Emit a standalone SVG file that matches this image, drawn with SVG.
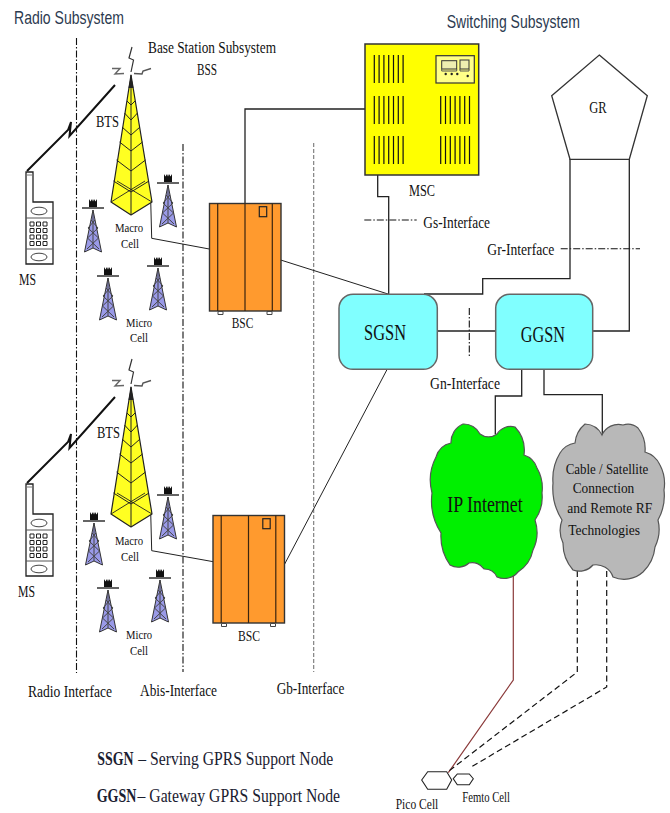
<svg xmlns="http://www.w3.org/2000/svg" width="670" height="813" viewBox="0 0 670 813">
<style>
text{font-family:"Liberation Serif","Times New Roman",serif;fill:#111;font-size:16.500px}
.h{font-family:"Liberation Sans",Arial,sans-serif;font-size:19px;fill:#2c3a50}
.big{font-size:23px}
.small{font-size:14.500px}
.tight{font-size:13.500px}
.cl{font-size:15.500px}
.legend{font-size:18px;fill:#1a2030}
.b{font-weight:bold}
.c{fill:none;stroke:#222;stroke-width:1.3}
.thin{fill:none;stroke:#222;stroke-width:1}
.dd{fill:none;stroke:#111;stroke-width:1.1;stroke-dasharray:7 2 1.5 2}
.gd{fill:none;stroke:#777;stroke-width:1.1;stroke-dasharray:4 2}
.cd{fill:none;stroke:#111;stroke-width:1.2;stroke-dasharray:6 3.500}
.vent{fill:none;stroke:#111;stroke-width:1.2}
</style>
<defs>
<g id="vents"><path class="vent" d="M0 0v28M4.800 0v28M9.600 0v28M14.400 0v28M19.200 0v28M24 0v28M28.800 0v28"/></g>
<g id="tower">
<path d="M131 75L111 202L131 215L152 202Z" fill="#ffff22" stroke="#222" stroke-width="1.200" stroke-linejoin="round"/>
<path d="M131 75V215" stroke="#222" stroke-width="1" fill="none"/>
<path d="M127 101L131 105L135 101M124.500 113L131 120L137.500 113M122 127L131 135L140 127M119.500 142L131 151L142.500 142M116.500 160L131 171L145.500 160M113.500 181L131 192L149 181" fill="none" stroke="#222" stroke-width="1"/>
<path d="M111 202L145 181M152 202L117 181" fill="none" stroke="#222" stroke-width="0.900"/>
<path d="M131 75L128.500 88H133.500Z" fill="#222"/>
<path d="M132 47L129 58L133.500 60L131 72" fill="none" stroke="#333" stroke-width="1.200"/>
<path d="M112 68.500H120L115 74L124 73.500" fill="none" stroke="#666" stroke-width="1.400"/>
<path d="M151 68.500L143 71L142 74L134 73.500" fill="none" stroke="#555" stroke-width="1.400"/>
</g>
<g id="mini">
<path d="M0 2L-8.500 44L0 40L8.500 44Z" fill="#9a9ae8" stroke="#333" stroke-width="1"/>
<path d="M-2 12L5 20L-5.500 30L6 41M2 12L-5 20L5.500 30L-6 41M0 2V40" fill="none" stroke="#444" stroke-width="1"/>
<path d="M-11 0H11" stroke="#111" stroke-width="1.300"/>
<path d="M-4 -1V-9L-2.500 -6.500L-1 -9L0 -6.500L1 -9L2.500 -6.500L4 -9V-1Z" fill="#111"/>
</g>
<g id="phone">
<path d="M26 172H33V202H53V264H26Z" fill="#fff" stroke="#222" stroke-width="1.300"/>
<path d="M26.500 175H32.500" stroke="#777" stroke-width="1"/>
<path d="M26 218H53M26 249H53" stroke="#555" stroke-width="1"/>
<ellipse cx="39" cy="211" rx="8" ry="3.800" fill="#fff" stroke="#444" stroke-width="1"/>
<ellipse cx="39" cy="257" rx="8" ry="3.800" fill="#fff" stroke="#444" stroke-width="1"/>
<path d="M30 222h4v4h-4zM36.500 222h4v4h-4zM43 222h4v4h-4zM30 228.500h4v4h-4zM36.500 228.500h4v4h-4zM43 228.500h4v4h-4zM30 235h4v4h-4zM36.500 235h4v4h-4zM43 235h4v4h-4zM30 241.500h4v4h-4zM36.500 241.500h4v4h-4zM43 241.500h4v4h-4z" fill="#fff" stroke="#222" stroke-width="1"/>
</g>
<g id="bolt"><path d="M27 171L68 130L71 122L69.500 136L115 85" fill="none" stroke="#111" stroke-width="2" stroke-linejoin="miter"/></g>
<g id="bsc">
<rect x="209.500" y="203.500" width="71.500" height="107.500" fill="#ff9a2e" stroke="#333" stroke-width="1.400"/>
<path d="M217.700 203.500V311M245 203.500V311M272.300 203.500V311" stroke="#3a2510" stroke-width="1.200" fill="none"/>
<rect x="259.300" y="206.700" width="7.400" height="10" fill="#ff9a2e" stroke="#222" stroke-width="1.200"/>
<path d="M218 311.500h5v3h-5zM267 311.500h5v3h-5z" fill="#fff" stroke="#444" stroke-width="1"/>
</g>
</defs>

<g id="connectors">
<path class="dd" d="M76.500 38V673"/>
<path class="dd" d="M183 144V672"/>
<path class="gd" d="M313.700 143V672"/>
<path class="dd" d="M364.300 220H416.700"/>
<path class="dd" d="M560.700 248.700H640"/>
<path class="dd" d="M469.300 308V356"/>
<path class="c" d="M245 203V109H365"/>
<path class="c" d="M377.700 175V196.700H388.700V294"/>
<path class="c" d="M570 159V278.700H482.700V294H424"/>
<path class="c" d="M629.300 159V331H592.700"/>
<path class="c" d="M437 331H496"/>
<path class="c" d="M521.700 369V396H495.300V434"/>
<path class="c" d="M544 369V394.700H602.300V435"/>
<path class="thin" d="M387.300 369L284.700 564"/>
<path class="thin" d="M280.700 260L388 294"/>
<path class="thin" d="M150.700 200L151.700 238.300L209.300 249"/>
<path class="thin" d="M150.700 512L151.700 550.700L213.300 561.700"/>
<path d="M513.300 571V680L448.300 772.700" fill="none" stroke="#8b3a3a" stroke-width="1.200"/>
<path class="cd" d="M577.300 571V672L448 771.700"/>
<path class="cd" d="M606.700 571V687L471.700 766.700"/>
</g>

<g id="titles">
<text class="h" x="14" y="24" textLength="110" lengthAdjust="spacingAndGlyphs">Radio Subsystem</text>
<text class="h" x="446.700" y="28" textLength="133.300" lengthAdjust="spacingAndGlyphs">Switching Subsystem</text>
<text x="148" y="53" textLength="128" lengthAdjust="spacingAndGlyphs">Base Station Subsystem</text>
<text x="197" y="75" textLength="20" lengthAdjust="spacingAndGlyphs">BSS</text>
</g>

<g id="ms-1"><use href="#bolt"/><use href="#phone"/><text x="19" y="285" textLength="17" lengthAdjust="spacingAndGlyphs">MS</text></g>
<g id="ms-2"><use href="#bolt" transform="translate(0 312)"/><use href="#phone" transform="translate(0 312)"/><text x="18" y="596.700" textLength="17" lengthAdjust="spacingAndGlyphs">MS</text></g>

<g id="bts-1"><use href="#tower"/><text x="96" y="126.700" textLength="23" lengthAdjust="spacingAndGlyphs">BTS</text>
<text class="tight" x="115" y="232" textLength="28" lengthAdjust="spacingAndGlyphs">Macro</text><text class="tight" x="121" y="248" textLength="18" lengthAdjust="spacingAndGlyphs">Cell</text></g>
<g id="bts-2"><use href="#tower" transform="translate(0 312)"/><text x="97" y="437.700" textLength="23" lengthAdjust="spacingAndGlyphs">BTS</text>
<text class="tight" x="115" y="545" textLength="28" lengthAdjust="spacingAndGlyphs">Macro</text><text class="tight" x="121" y="560.500" textLength="18" lengthAdjust="spacingAndGlyphs">Cell</text></g>

<g id="micro-1">
<use href="#mini" transform="translate(93 208)"/><use href="#mini" transform="translate(168 183)"/><use href="#mini" transform="translate(108 276)"/><use href="#mini" transform="translate(158 266)"/>
<text class="tight" x="126" y="326.700" textLength="26" lengthAdjust="spacingAndGlyphs">Micro</text><text class="tight" x="130" y="342.200" textLength="18" lengthAdjust="spacingAndGlyphs">Cell</text>
</g>
<g id="micro-2">
<use href="#mini" transform="translate(94 521)"/><use href="#mini" transform="translate(168 495)"/><use href="#mini" transform="translate(108 588)"/><use href="#mini" transform="translate(160 578)"/>
<text class="tight" x="126" y="639" textLength="26" lengthAdjust="spacingAndGlyphs">Micro</text><text class="tight" x="130" y="654.500" textLength="18" lengthAdjust="spacingAndGlyphs">Cell</text>
</g>

<g id="bsc-1"><use href="#bsc"/><text class="small" x="231.700" y="328" textLength="21.600" lengthAdjust="spacingAndGlyphs">BSC</text></g>
<g id="bsc-2"><use href="#bsc" transform="translate(3.500 312)"/><text class="small" x="238" y="640.700" textLength="22" lengthAdjust="spacingAndGlyphs">BSC</text></g>

<g id="msc">
<rect x="365" y="44" width="113.700" height="131" fill="#ffff00" stroke="#333" stroke-width="1.500"/>
<use href="#vents" transform="translate(374.300 55)"/><use href="#vents" transform="translate(374.300 96)"/><use href="#vents" transform="translate(374.300 136)"/>
<use href="#vents" transform="translate(440.700 96)"/><use href="#vents" transform="translate(440.700 136)"/>
<rect x="436" y="55.700" width="38.300" height="27.300" fill="#ffff88" stroke="#333" stroke-width="1.200"/>
<rect x="441.700" y="60.700" width="15" height="8.300" fill="#eeeeb0" stroke="#333"/>
<rect x="460" y="60" width="9" height="9" fill="#eeeeb0" stroke="#333"/>
<path d="M441.700 69v2h15v-2M460 69v2h9v-2" fill="none" stroke="#555"/>
<circle cx="445.700" cy="74" r="1.200" fill="#222"/><circle cx="451.700" cy="74" r="1.200" fill="#222"/><circle cx="457.300" cy="74" r="1.200" fill="#222"/><circle cx="467.700" cy="76" r="1.200" fill="#222"/>
<text x="409" y="196" textLength="26" lengthAdjust="spacingAndGlyphs">MSC</text>
</g>

<g id="gr">
<path d="M599.300 55L647.300 95.700L629.300 159.300H570L551.700 95.700Z" fill="#fff" stroke="#333" stroke-width="1.300"/>
<text x="589.300" y="113.300" textLength="17.400" lengthAdjust="spacingAndGlyphs">GR</text>
</g>

<g id="sgsn">
<rect x="339" y="294.300" width="98.300" height="75" rx="14" fill="#80ffff" stroke="#666" stroke-width="1.500"/>
<text class="big" x="364" y="340" textLength="42" lengthAdjust="spacingAndGlyphs">SGSN</text>
</g>
<g id="ggsn">
<rect x="495.700" y="294.300" width="97" height="75" rx="14" fill="#80ffff" stroke="#666" stroke-width="1.500"/>
<text class="big" x="520.700" y="341.700" textLength="44.300" lengthAdjust="spacingAndGlyphs">GGSN</text>
</g>

<g id="ip-internet">
<path d="M463 424A18 18 0 0 1 480 434A14 14 0 0 0 497 434A16 16 0 0 1 515 427A34 34 0 0 1 524 455A20 20 0 0 1 537 468A40 40 0 0 1 542 493A40 40 0 0 1 535 520A40 40 0 0 1 533 550A34 34 0 0 1 518 572A18 18 0 0 1 497 577A14 14 0 0 0 484 569A14 14 0 0 0 469 563A16 16 0 0 1 450 565A50 50 0 0 1 441 533A60 60 0 0 1 432 493A50 50 0 0 1 436 457A20 20 0 0 1 451 443A20 20 0 0 1 463 424Z" fill="#00f000" stroke="#555" stroke-width="1.200"/>
<text class="big" x="447.300" y="511.700" textLength="75.400" lengthAdjust="spacingAndGlyphs">IP Internet</text>
</g>

<g id="cable-satellite">
<path d="M585 424A20 20 0 0 1 602 435A18 18 0 0 1 623 425A16 16 0 0 1 638 428A34 34 0 0 1 645 452A24 24 0 0 1 660 465A40 40 0 0 1 664 490A50 50 0 0 1 658 520A40 40 0 0 1 655 547A40 40 0 0 1 643 572A28 28 0 0 1 613 577A18 18 0 0 0 593 565A18 18 0 0 1 573 570A40 40 0 0 1 563 543A30 30 0 0 1 562 520A60 60 0 0 1 553 483A50 50 0 0 1 560 453A22 22 0 0 1 575 443A28 28 0 0 1 585 424Z" fill="#b8b8b8" stroke="#555" stroke-width="1.200"/>
<text class="cl" x="565.700" y="474.300" textLength="82.600" lengthAdjust="spacingAndGlyphs">Cable / Satellite</text>
<text class="cl" x="572.700" y="493.300" textLength="61.600" lengthAdjust="spacingAndGlyphs">Connection</text>
<text class="cl" x="567.300" y="512.700" textLength="85" lengthAdjust="spacingAndGlyphs">and Remote RF</text>
<text class="cl" x="568.300" y="535" textLength="71.700" lengthAdjust="spacingAndGlyphs">Technologies</text>
</g>

<g id="pico-cell">
<path d="M421.700 780L427.700 771.700H446.700L451.700 780L446.700 789.300H427.700Z" fill="#fff" stroke="#222" stroke-width="1.100"/>
<text class="small" x="395.700" y="809" textLength="42.600" lengthAdjust="spacingAndGlyphs">Pico Cell</text>
</g>
<g id="femto-cell">
<path d="M453.300 778.700L457.300 774H469.300L473.300 778.700L469.300 784.700H457.300Z" fill="#fff" stroke="#222" stroke-width="1.100"/>
<text class="small" x="462.300" y="801.700" textLength="47.700" lengthAdjust="spacingAndGlyphs">Femto Cell</text>
</g>

<g id="interface-labels">
<text x="423.300" y="227.700" textLength="66.700" lengthAdjust="spacingAndGlyphs">Gs-Interface</text>
<text x="487.300" y="254.700" textLength="67" lengthAdjust="spacingAndGlyphs">Gr-Interface</text>
<text x="430" y="389" textLength="70" lengthAdjust="spacingAndGlyphs">Gn-Interface</text>
<text x="28" y="697" textLength="84" lengthAdjust="spacingAndGlyphs">Radio Interface</text>
<text x="140" y="696" textLength="77" lengthAdjust="spacingAndGlyphs">Abis-Interface</text>
<text x="276.700" y="694" textLength="67.600" lengthAdjust="spacingAndGlyphs">Gb-Interface</text>
</g>

<g id="legend">
<text class="legend b" transform="translate(97.300 765) scale(0.77 1)">SSGN</text>
<text class="legend" x="138.300" y="765" textLength="195" lengthAdjust="spacingAndGlyphs">– Serving GPRS Support Node</text>
<text class="legend b" transform="translate(96.700 801.700) scale(0.78 1)">GGSN</text>
<text class="legend" x="137.500" y="801.700" textLength="202.500" lengthAdjust="spacingAndGlyphs">– Gateway GPRS Support Node</text>
</g>
</svg>
